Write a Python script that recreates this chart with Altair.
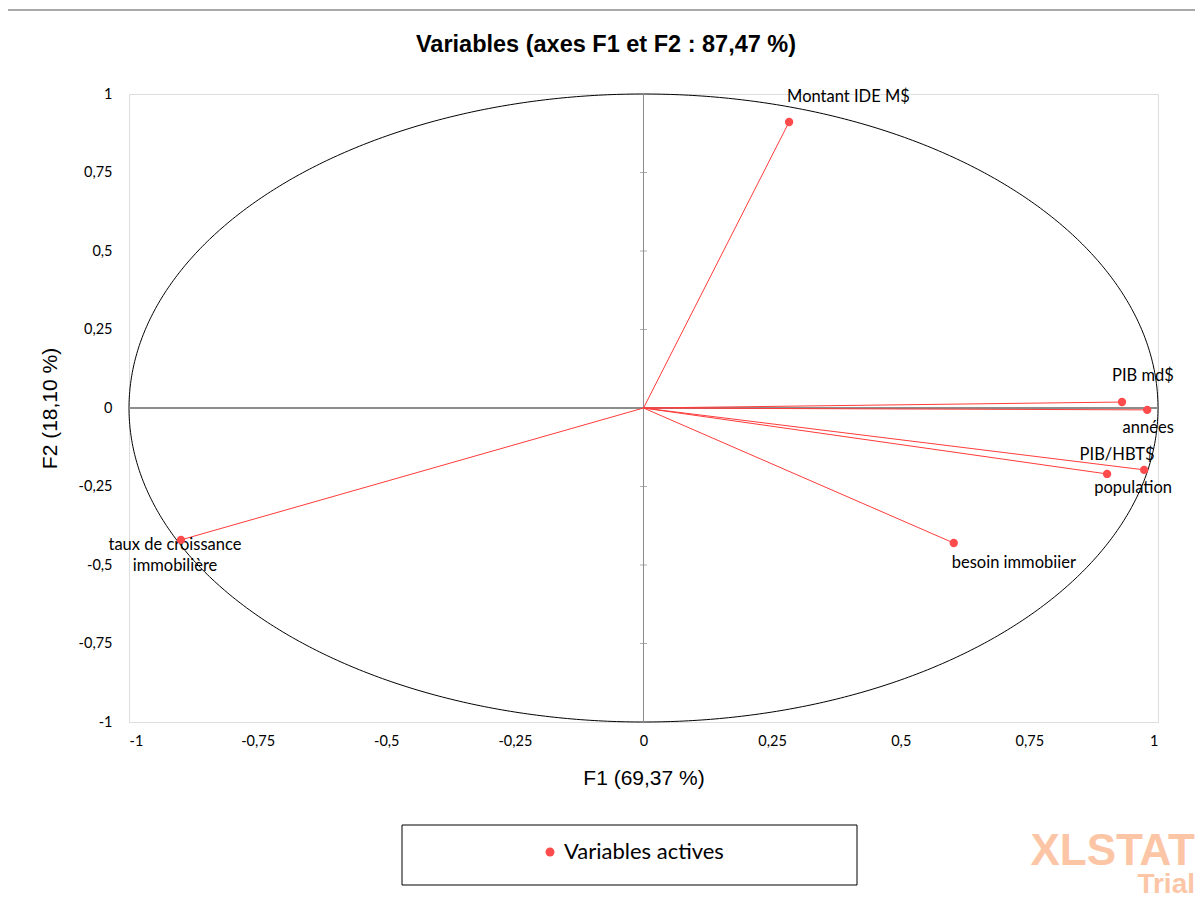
import altair as alt
import pandas as pd
import numpy as np

# ---- data ----
names = ["Montant IDE M$", "PIB md$", "années", "PIB/HBT$", "population",
         "besoin immobiier", "taux de croissance\nimmobilière"]
f1 = [0.283, 0.930, 0.979, 0.973, 0.901, 0.603, -0.899]
f2 = [0.911, 0.019, -0.006, -0.197, -0.210, -0.430, -0.420]
tick_values = [-1, -0.75, -0.5, -0.25, 0, 0.25, 0.5, 0.75, 1]
series_name = "Variables actives"
chart_title = "Variables (axes F1 et F2 : 87,47 %)"

W, H = 1029, 628
RED_LINE = "#FF3B3B"
RED_PT = "#FF4B4B"

df = pd.DataFrame({"name": names, "F1": f1, "F2": f2, "serie": series_name,
                   "x0": 0.0, "y0": 0.0})

# unit circle (correlation circle)
ang = np.linspace(0, 2 * np.pi, 721)
circle = pd.DataFrame({"cx": np.cos(ang), "cy": np.sin(ang), "o": np.arange(len(ang))})

ticks = pd.DataFrame({"t": [v for v in tick_values if v != 0], "z": 0.0})

xs = alt.Scale(domain=[-1, 1], nice=False, zero=False)
ys = alt.Scale(domain=[-1, 1], nice=False, zero=False)
lab = "replace(toString(datum.value), '.', ',')"

base = alt.Chart(df)

circ = alt.Chart(circle).mark_line(color="black", strokeWidth=1).encode(
    x=alt.X("cx:Q", scale=xs, axis=alt.Axis(values=tick_values, labelExpr=lab, title="F1 (69,37 %)",
                                            domain=False, ticks=False, grid=False,
                                            labelFont="Lato", labelFontSize=14.5, labelColor="black",
                                            labelPadding=12, titleFont="Liberation Sans",
                                            titleFontSize=21, titleFontWeight="normal",
                                            titleColor="black", titlePadding=20)),
    y=alt.Y("cy:Q", scale=ys, axis=alt.Axis(values=tick_values, labelExpr=lab, title="F2 (18,10 %)",
                                            domain=False, ticks=False, grid=False,
                                            labelFont="Lato", labelFontSize=14.5, labelColor="black",
                                            labelPadding=17, titleFont="Liberation Sans",
                                            titleFontSize=21, titleFontWeight="normal",
                                            titleColor="black", titlePadding=18)),
    order="o:Q",
)

vline = alt.Chart(ticks).mark_rule(color="#8C8C8C", strokeWidth=1).encode(
    x=alt.datum(0, scale=xs), y=alt.datum(-1, scale=ys), y2=alt.datum(1))
hline = alt.Chart(ticks).mark_rule(color="#8C8C8C", strokeWidth=1).encode(
    y=alt.datum(0, scale=ys), x=alt.datum(-1, scale=xs), x2=alt.datum(1))
vticks = alt.Chart(ticks).mark_tick(orient="horizontal", size=7, thickness=1, color="#8C8C8C").encode(
    x=alt.X("z:Q", scale=xs), y=alt.Y("t:Q", scale=ys))

vectors = base.mark_rule(color=RED_LINE, strokeWidth=1).encode(
    x=alt.X("x0:Q", scale=xs), y=alt.Y("y0:Q", scale=ys), x2="F1:Q", y2="F2:Q")

points = base.mark_point(filled=True, size=70, opacity=1, shape="circle").encode(
    x=alt.X("F1:Q", scale=xs), y=alt.Y("F2:Q", scale=ys),
    color=alt.Color("serie:N", scale=alt.Scale(domain=[series_name], range=[RED_PT]),
                    legend=alt.Legend(title=None, orient="none", legendX=410, legendY=747,
                                      labelFont="Lato", labelFontSize=22, labelColor="black",
                                      symbolType="circle", symbolSize=80, symbolStrokeWidth=0,
                                      labelOffset=3)))

label_style = [
    ("Montant IDE M$", "left", -2, -25),
    ("PIB md$", "center", 21, -26),
    ("années", "center", 1, 18),
    ("PIB/HBT$", "center", -27, -15),
    ("population", "center", 26, 14),
    ("besoin immobiier", "left", -2, 20),
]
labels = []
for nm, al, dx, dy in label_style:
    labels.append(base.transform_filter(alt.datum.name == nm).mark_text(
        font="Lato", fontSize=16.5, color="black", align=al, baseline="middle", dx=dx, dy=dy
    ).encode(x=alt.X("F1:Q", scale=xs), y=alt.Y("F2:Q", scale=ys), text="name:N"))
labels.append(base.transform_filter(alt.datum.name == names[-1]).mark_text(
    font="Lato", fontSize=16.5, color="black", align="center", baseline="top", dx=-6, dy=-3,
    lineBreak="\n", lineHeight=21
).encode(x=alt.X("F1:Q", scale=xs), y=alt.Y("F2:Q", scale=ys), text="name:N"))

deco = pd.DataFrame({"k": [0]})
title_mark = alt.Chart(deco).mark_text(text=chart_title, font="Liberation Sans", fontWeight="bold",
                                       fontSize=23.5, color="black", align="center",
                                       baseline="middle").encode(x=alt.value(477), y=alt.value(-49))
legend_box = alt.Chart(deco).mark_rect(fill="white", stroke="black", strokeWidth=1).encode(
    x=alt.value(273), x2=alt.value(728), y=alt.value(731), y2=alt.value(791))
frame_top = alt.Chart(deco).mark_rule(color="#8C8C8C", strokeWidth=1.5).encode(
    x=alt.value(-126), x2=alt.value(1100), y=alt.value(-84))
wm1 = alt.Chart(deco).mark_text(text="XLSTAT", font="Liberation Sans", fontWeight="bold",
                                 fontSize=44, color="#FCC6A6", align="right",
                                 baseline="middle").encode(x=alt.value(1066), y=alt.value(758))
wm2 = alt.Chart(deco).mark_text(text="Trial", font="Liberation Sans", fontWeight="bold",
                                 fontSize=28, color="#FCC6A6", align="right",
                                 baseline="middle").encode(x=alt.value(1066), y=alt.value(791))

chart = alt.layer(
    frame_top, legend_box, circ, vline, hline, vticks, vectors,
    *labels, points, title_mark, wm1, wm2
).properties(
    width=W, height=H,
    autosize=alt.AutoSizeParams(type="none"),
    padding={"left": 121, "top": 86, "right": 37, "bottom": 175},
).configure_view(stroke="#D4D4D4", strokeWidth=1.5).configure(background="white")

chart.save("out.html", embed_options={"renderer": "svg", "actions": False})
